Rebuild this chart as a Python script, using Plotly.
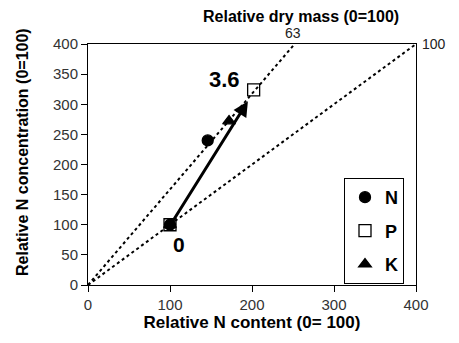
import plotly.graph_objects as go

# Data
dry_mass_lines = [63, 100]          # relative dry mass iso-lines
axis_max = 400
series_names = ["N", "P", "K"]
n_content = {"N": [100, 146], "P": [100, 202], "K": [100, 172]}
n_conc = {"N": [100, 240], "P": [100, 324], "K": [100, 272]}
arrow_start = (102, 103)
arrow_end = (195, 305)
start_label, end_label = "0", "3.6"

symbols = {"N": "circle", "P": "square-open", "K": "triangle-up"}
sizes = {"N": 11, "P": 12, "K": 11}

fig = go.Figure()
font = "Liberation Sans, Arial, sans-serif"

for dm in dry_mass_lines:
    fig.add_trace(go.Scatter(
        x=[0, axis_max * dm / 100], y=[0, axis_max], mode="lines",
        line=dict(color="black", width=2, dash="dot"), showlegend=False,
        hoverinfo="skip"))
    fig.add_annotation(x=axis_max * dm / 100, y=axis_max, text=str(dm),
                       showarrow=False, xanchor="left" if dm == 100 else "center",
                       yanchor="bottom" if dm != 100 else "middle",
                       xshift=4 if dm == 100 else -2, yshift=1 if dm != 100 else 0,
                       font=dict(family=font, size=14, color="#222"))

for s in series_names:
    fig.add_trace(go.Scatter(
        x=n_content[s], y=n_conc[s], mode="markers", name=f"<b>{s}</b>",
        legendgroup=s,
        marker=dict(symbol=symbols[s], size=sizes[s], color="black",
                    line=dict(color="black", width=1.3)),
        cliponaxis=False))

fig.add_annotation(x=arrow_end[0], y=arrow_end[1], ax=arrow_start[0], ay=arrow_start[1],
                   xref="x", yref="y", axref="x", ayref="y", text="",
                   showarrow=True, arrowhead=2, arrowsize=1, arrowwidth=3,
                   arrowcolor="black")
fig.add_annotation(x=111, y=68, text=f"<b>{start_label}</b>", showarrow=False,
                   font=dict(family=font, size=21, color="black"))
fig.add_annotation(x=166, y=341, text=f"<b>{end_label}</b>", showarrow=False,
                   font=dict(family=font, size=22, color="black"))
fig.add_annotation(x=0.65, xref="paper", y=1, yref="paper", yshift=17,
                   text="<b>Relative dry mass (0=100)</b>", showarrow=False,
                   xanchor="center", yanchor="bottom",
                   font=dict(family=font, size=16, color="black"))
fig.add_annotation(x=-(88 - 23) / 328, xref="paper", y=0.552, yref="paper",
                   text="<b>Relative N concentration (0=100)</b>", showarrow=False,
                   textangle=-90, xanchor="center", yanchor="middle",
                   font=dict(family=font, size=16, color="black"))

axis_common = dict(range=[0, axis_max], showgrid=False, zeroline=False,
                   showline=True, linecolor="black", linewidth=1, mirror=True,
                   ticks="outside", ticklen=6, tickcolor="black",
                   tickfont=dict(family=font, size=15, color="#333"))

fig.update_layout(
    width=459, height=343,
    margin=dict(l=88, r=43, t=44, b=58),
    plot_bgcolor="white", paper_bgcolor="white",
    xaxis=dict(**axis_common, dtick=100,
               title=dict(text="<b>Relative N content (0= 100)</b>", standoff=4,
                          font=dict(family=font, size=17, color="black"))),
    yaxis=dict(**axis_common, dtick=50),
    legend=dict(x=(344 - 88) / 328, y=(285 - 178) / 241, xanchor="left", yanchor="top",
                bordercolor="black", borderwidth=1, bgcolor="white",
                traceorder="grouped", tracegroupgap=7,
                font=dict(family=font, size=18, color="black"),
                itemwidth=30),
    showlegend=True,
)

fig.write_html("out.html")
